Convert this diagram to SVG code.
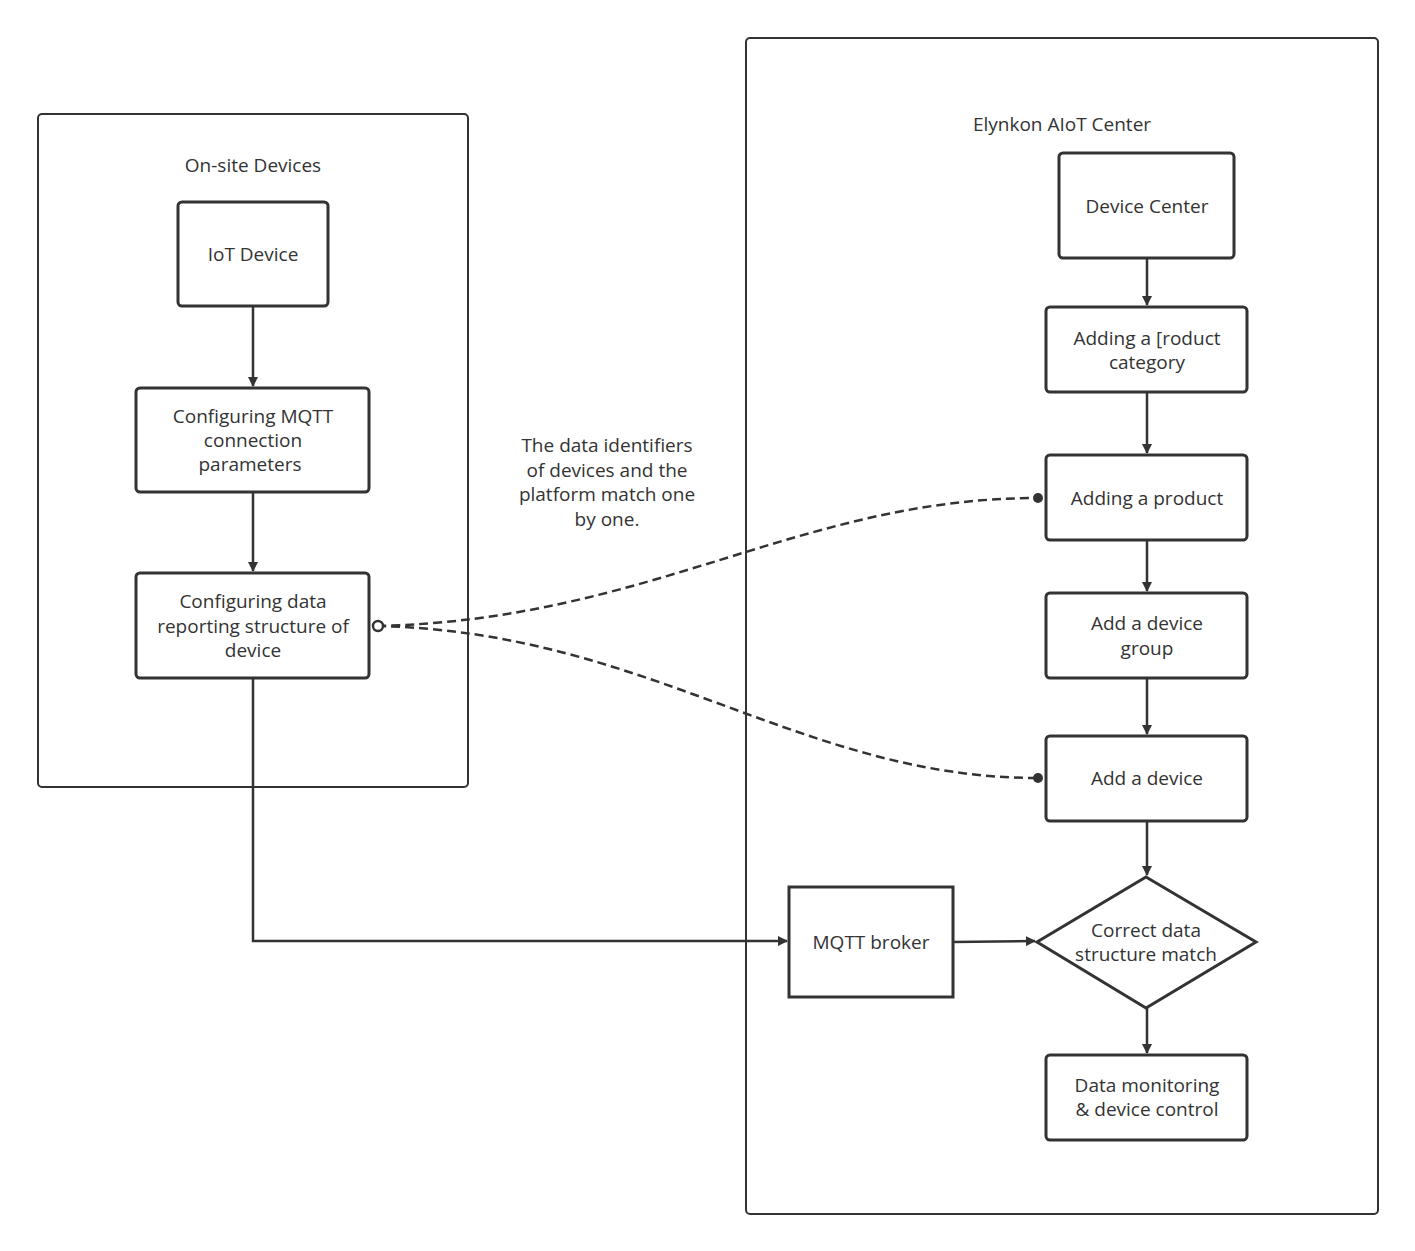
<svg xmlns="http://www.w3.org/2000/svg" width="1415" height="1251" viewBox="0 0 1415 1251">
<style>
text{font-family:"Open Sans","Noto Sans","DejaVu Sans",sans-serif;font-size:19px;fill:#333;text-anchor:middle}
.box{fill:#fff;stroke:#333;stroke-width:3}
.cont{fill:none;stroke:#333;stroke-width:2}
.ln{fill:none;stroke:#333;stroke-width:2.5}
.dash{fill:none;stroke:#333;stroke-width:2.5;stroke-dasharray:9 5}
</style>
<defs>
<marker id="ar" markerWidth="10" markerHeight="10" refX="9" refY="5" orient="auto" markerUnits="userSpaceOnUse" viewBox="0 0 10 10"><path d="M0,0 L10,5 L0,10 z" fill="#333"/></marker>
</defs>
<rect width="1415" height="1251" fill="#fff"/>
<g id="onsite"><rect class="cont" x="38" y="114" width="430" height="673" rx="4"/><text x="253" y="172">On-site Devices</text></g>
<g id="aiot"><rect class="cont" x="746" y="38" width="632" height="1176" rx="4"/><text x="1062" y="131">Elynkon AIoT Center</text></g>
<g id="connectors">
<path class="ln" d="M253,306 V386" marker-end="url(#ar)"/>
<path class="ln" d="M253,492 V571" marker-end="url(#ar)"/>
<path class="ln" d="M253,678 V941 H787" marker-end="url(#ar)"/>
<path class="ln" d="M953,942 L1035,941" marker-end="url(#ar)"/>
<path class="ln" d="M1147,258 V305" marker-end="url(#ar)"/>
<path class="ln" d="M1147,392 V453" marker-end="url(#ar)"/>
<path class="ln" d="M1147,540 V591" marker-end="url(#ar)"/>
<path class="ln" d="M1147,678 V734" marker-end="url(#ar)"/>
<path class="ln" d="M1147,821 V875" marker-end="url(#ar)"/>
<path class="ln" d="M1147,1008 V1053" marker-end="url(#ar)"/>
<path class="dash" d="M377,626 C650,620 800,498 1038,498"/>
<path class="dash" d="M377,626 C650,632 800,778 1038,778"/>
<circle cx="378" cy="626" r="5" fill="#fff" stroke="#333" stroke-width="2.5"/>
<circle cx="1038" cy="498" r="5" fill="#333"/>
<circle cx="1038" cy="778" r="5" fill="#333"/>
<text x="607" y="452">The data identifiers</text>
<text x="607" y="477">of devices and the</text>
<text x="607" y="501">platform match one</text>
<text x="607" y="526">by one.</text>
</g>
<g id="iot"><rect class="box" x="178" y="202" width="150" height="104" rx="4"/><text x="253" y="261">IoT Device</text></g>
<g id="mqttcfg"><rect class="box" x="136" y="388" width="233" height="104" rx="4"/><text x="253" y="423">Configuring MQTT</text><text x="253" y="447">connection</text><text x="250" y="471">parameters</text></g>
<g id="datacfg"><rect class="box" x="136" y="573" width="233" height="105" rx="4"/><text x="253" y="608">Configuring data</text><text x="253" y="633">reporting structure of</text><text x="253" y="657">device</text></g>
<g id="devcenter"><rect class="box" x="1059" y="153" width="175" height="105" rx="4"/><text x="1147" y="213">Device Center</text></g>
<g id="category"><rect class="box" x="1046" y="307" width="201" height="85" rx="4"/><text x="1147" y="345">Adding a [roduct</text><text x="1147" y="369">category</text></g>
<g id="product"><rect class="box" x="1046" y="455" width="201" height="85" rx="4"/><text x="1147" y="505">Adding a product</text></g>
<g id="group"><rect class="box" x="1046" y="593" width="201" height="85" rx="4"/><text x="1147" y="630">Add a device</text><text x="1147" y="655">group</text></g>
<g id="device"><rect class="box" x="1046" y="736" width="201" height="85" rx="4"/><text x="1147" y="785">Add a device</text></g>
<g id="match"><polygon class="box" points="1146,877 1256,942 1146,1008 1037,942"/><text x="1146" y="937">Correct data</text><text x="1146" y="961">structure match</text></g>
<g id="monitor"><rect class="box" x="1046" y="1055" width="201" height="85" rx="4"/><text x="1147" y="1092">Data monitoring</text><text x="1147" y="1116">&amp; device control</text></g>
<g id="broker"><rect class="box" x="789" y="887" width="164" height="110"/><text x="871" y="949">MQTT broker</text></g>
</svg>
